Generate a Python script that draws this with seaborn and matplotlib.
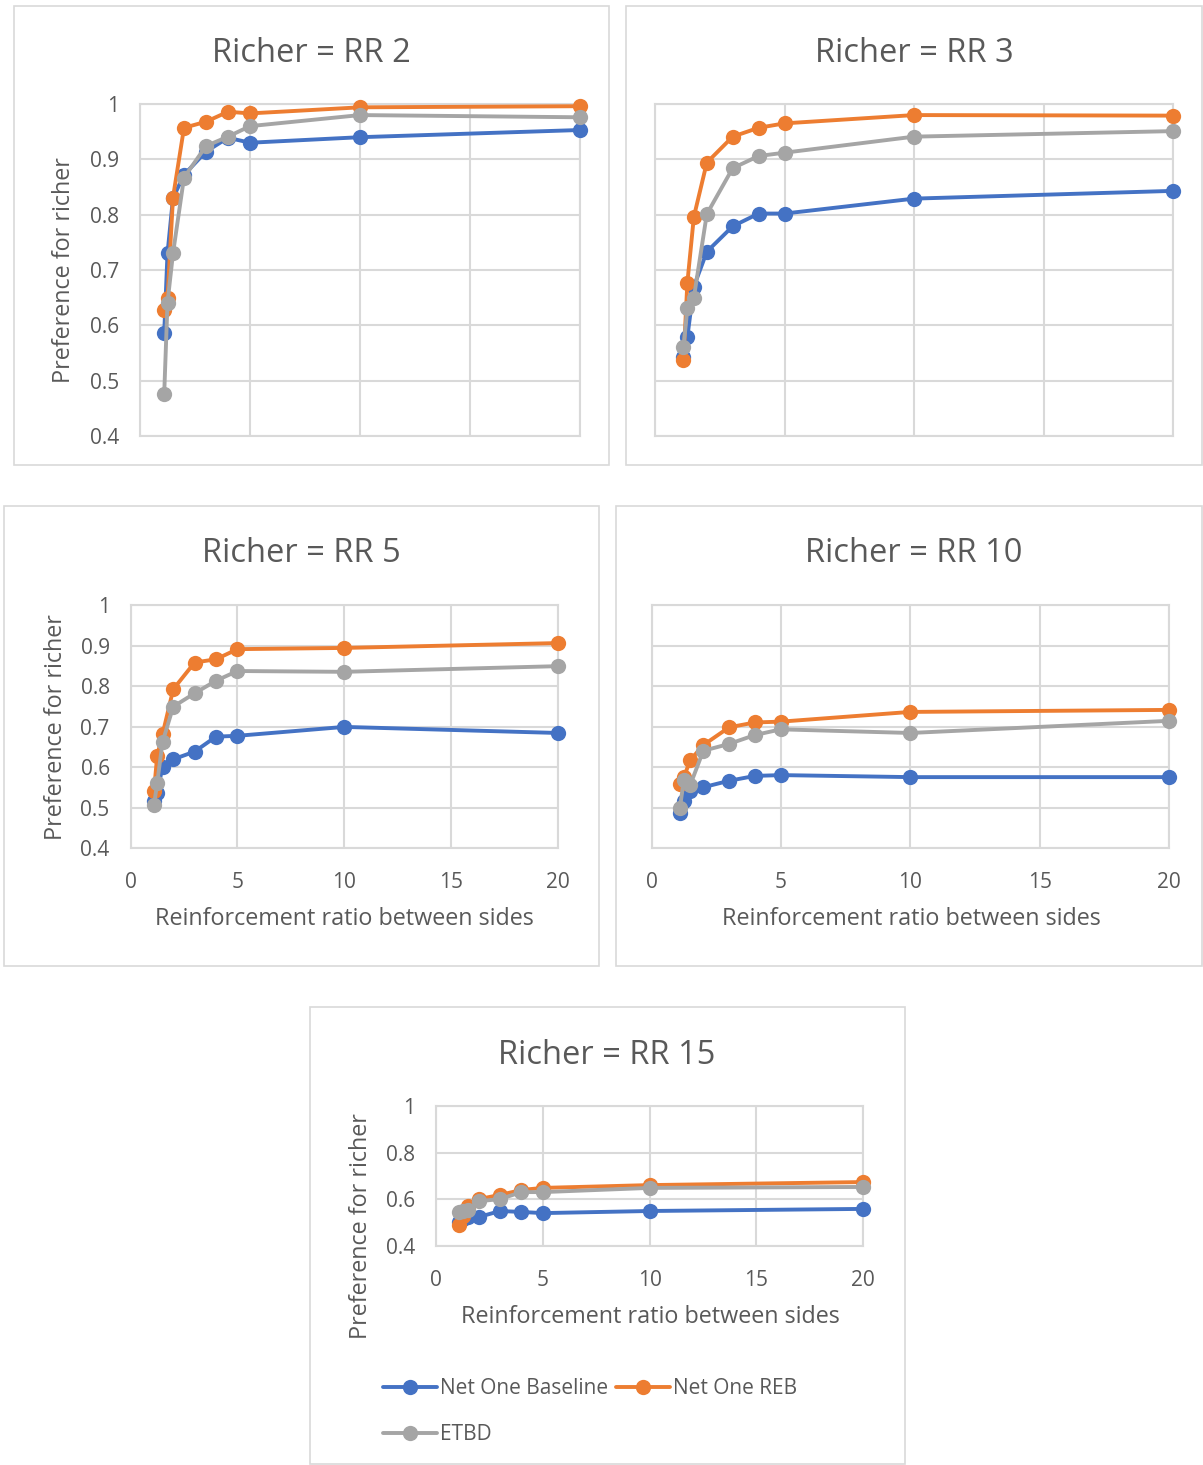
import numpy as np
import pandas as pd
import matplotlib
matplotlib.use("Agg")
import matplotlib.pyplot as plt
from matplotlib.patches import Rectangle
from matplotlib.lines import Line2D
from matplotlib.ticker import FuncFormatter
import seaborn as sns

# ---- data -------------------------------------------------------------
ratios = [1.1, 1.25, 1.5, 2, 3, 4, 5, 10, 20]
series_names = ["Net One Baseline", "Net One REB", "ETBD"]
series_colors = ["#4472C4", "#ED7D31", "#A5A5A5"]

rr2_baseline = [0.586, 0.730, 0.830, 0.872, 0.914, 0.939, 0.930, 0.940, 0.953]
rr2_reb = [0.627, 0.649, 0.831, 0.957, 0.968, 0.986, 0.983, 0.994, 0.996]
rr2_etbd = [0.476, 0.641, 0.730, 0.867, 0.924, 0.941, 0.960, 0.980, 0.976]

rr3_baseline = [0.543, 0.579, 0.670, 0.733, 0.779, 0.802, 0.802, 0.829, 0.843]
rr3_reb = [0.538, 0.677, 0.796, 0.894, 0.941, 0.957, 0.965, 0.980, 0.979]
rr3_etbd = [0.560, 0.631, 0.650, 0.801, 0.884, 0.906, 0.912, 0.941, 0.951]

rr5_baseline = [0.517, 0.537, 0.601, 0.619, 0.638, 0.675, 0.677, 0.699, 0.684]
rr5_reb = [0.541, 0.628, 0.681, 0.792, 0.858, 0.866, 0.891, 0.894, 0.906]
rr5_etbd = [0.506, 0.561, 0.662, 0.749, 0.782, 0.813, 0.837, 0.835, 0.849]

rr10_baseline = [0.486, 0.515, 0.540, 0.550, 0.566, 0.578, 0.580, 0.575, 0.575]
rr10_reb = [0.558, 0.575, 0.617, 0.654, 0.698, 0.710, 0.712, 0.736, 0.741]
rr10_etbd = [0.500, 0.568, 0.556, 0.640, 0.657, 0.679, 0.693, 0.684, 0.714]

rr15_baseline = [0.503, 0.516, 0.524, 0.524, 0.550, 0.546, 0.541, 0.550, 0.559]
rr15_reb = [0.490, 0.530, 0.570, 0.601, 0.619, 0.640, 0.649, 0.661, 0.674]
rr15_etbd = [0.545, 0.550, 0.554, 0.592, 0.601, 0.631, 0.631, 0.649, 0.653]

panel_titles = ["Richer = RR 2", "Richer = RR 3", "Richer = RR 5",
                "Richer = RR 10", "Richer = RR 15"]
x_ticks = [0, 5, 10, 15, 20]
y_ticks_fine = [0.4, 0.5, 0.6, 0.7, 0.8, 0.9, 1.0]
y_ticks_coarse = [0.4, 0.6, 0.8, 1.0]
x_label = "Reinforcement ratio between sides"
y_label = "Preference for richer"

panels = [
    (rr2_baseline, rr2_reb, rr2_etbd),
    (rr3_baseline, rr3_reb, rr3_etbd),
    (rr5_baseline, rr5_reb, rr5_etbd),
    (rr10_baseline, rr10_reb, rr10_etbd),
    (rr15_baseline, rr15_reb, rr15_etbd),
]

# ---- styling -----------------------------------------------------------
sns.set_theme(style="white")
plt.rcParams["font.family"] = ["Open Sans", "DejaVu Sans"]
TXT = "#595959"
GRID = "#d9d9d9"
TITLE_FS = 23.5
LABEL_FS = 16.8
TICK_FS = 15
LEGEND_FS = 15
MS = 11
LW = 2.8

W, H = 1203, 1465
fig = plt.figure(figsize=(W / 100, H / 100), dpi=100)


def rect_px(x0, y0, x1, y1):
    return [x0 / W, 1 - y1 / H, (x1 - x0) / W, (y1 - y0) / H]


# chart frames (pixel boxes)
frames = [(14, 6, 609, 465), (626, 6, 1202, 465), (4, 506, 599, 966),
          (616, 506, 1202, 966), (310, 1007, 905, 1464)]
for (x0, y0, x1, y1) in frames:
    fig.patches.append(Rectangle((x0 / W, 1 - y1 / H), (x1 - x0) / W, (y1 - y0) / H,
                                 transform=fig.transFigure, fill=False,
                                 edgecolor=GRID, linewidth=1.2))

# plot areas (pixel boxes) and decorations
plot_areas = [(140, 104, 580, 436), (655, 104, 1173, 436),
              (130.5, 605, 558, 848), (651.5, 605, 1169, 848),
              (436, 1106, 863, 1246)]
show_xticklabels = [False, False, True, True, True]
show_yticklabels = [True, False, True, False, True]
title_pos = [(311, 53), (914, 53), (301, 554), (914, 554), (607, 1055)]

fmt = FuncFormatter(lambda v, _: "1" if abs(v - 1) < 1e-9 else f"{v:g}")

for i, (area, data) in enumerate(zip(plot_areas, panels)):
    ax = fig.add_axes(rect_px(*area))
    for name, vals, col in zip(series_names, data, series_colors):
        sns.lineplot(x=ratios, y=vals, ax=ax, color=col, marker="o",
                     markersize=MS, markeredgewidth=0, linewidth=LW,
                     label=name, legend=False, clip_on=False, zorder=3)
    ax.set_xlim(0, 20)
    ax.set_ylim(0.4, 1.0)
    ax.set_xticks(x_ticks)
    ax.set_yticks(y_ticks_coarse if i == 4 else y_ticks_fine)
    ax.yaxis.set_major_formatter(fmt)
    ax.grid(True, color=GRID, linewidth=1.5)
    ax.set_axisbelow(True)
    for s in ax.spines.values():
        s.set_color(GRID)
        s.set_linewidth(1.5)
        s.set_zorder(0.5)
    ax.tick_params(axis="both", length=0, labelsize=TICK_FS, colors=TXT)
    ax.tick_params(axis="y", pad=15)
    ax.tick_params(axis="x", pad=17)
    if not show_xticklabels[i]:
        ax.set_xticklabels([])
    if not show_yticklabels[i]:
        ax.set_yticklabels([])
    ax.set_xlabel("")
    ax.set_ylabel("")
    tx, ty = title_pos[i]
    fig.text(tx / W, 1 - ty / H, panel_titles[i], ha="center", va="center",
             fontsize=TITLE_FS, color=TXT)

# axis titles
for (x, y) in [(64, 270), (56, 727), (361, 1226)]:
    fig.text(x / W, 1 - y / H, y_label, rotation=90, ha="center", va="center",
             fontsize=LABEL_FS, color=TXT)
for (x, y) in [(344, 919), (911, 919), (650, 1317)]:
    fig.text(x / W, 1 - y / H, x_label, ha="center", va="center",
             fontsize=LABEL_FS, color=TXT)

# legend below the last panel
handles = [Line2D([], [], color=c, marker="o", markersize=MS, markeredgewidth=0,
                  linewidth=LW) for c in series_colors]
order = [0, 2, 1]
fig.legend([handles[k] for k in order], [series_names[k] for k in order],
           ncol=2, loc="upper left", bbox_to_anchor=(383 / W, 1 - 1378 / H),
           frameon=False, fontsize=LEGEND_FS, labelcolor=TXT, handlelength=2.6,
           handletextpad=0.15, columnspacing=0.35, labelspacing=1.2,
           borderaxespad=0, borderpad=0)

fig.savefig("out.png", dpi=100, facecolor="white")
